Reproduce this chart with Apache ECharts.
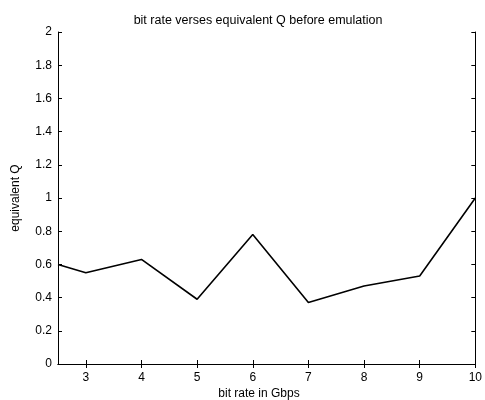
<!DOCTYPE html>
<html>
<head>
<meta charset="utf-8">
<script src="https://cdn.jsdelivr.net/npm/echarts@6/dist/echarts.min.js"></script>
<style>
html, body { margin: 0; padding: 0; background: #fff; }
#chart { width: 485px; height: 400px; }
</style>
</head>
<body>
<div id="chart"></div>
<script>
// Bit rate (Gbps) and equivalent Q before emulation
const bitRate = [2.5, 3, 4, 5, 6, 7, 8, 9, 10];
const equivQ = [0.60, 0.55, 0.63, 0.39, 0.78, 0.37, 0.47, 0.53, 1.00];
const xTicks = [3, 4, 5, 6, 7, 8, 9, 10];

const font = 'Liberation Sans, Arial, sans-serif';
const chart = echarts.init(document.getElementById('chart'));

const boxLine = { show: true, lineStyle: { color: '#000', width: 1 } };
const boxTick = { show: true, inside: true, length: 4, lineStyle: { color: '#000' } };

chart.setOption({
  animation: false,
  backgroundColor: '#fff',
  title: [{
    text: 'bit rate verses equivalent Q before emulation',
    left: 253, top: 9, textAlign: 'center',
    textStyle: { fontFamily: font, fontSize: 12.5, fontWeight: 'normal', color: '#000' }
  }, {
    text: 'bit rate in Gbps',
    left: 254, top: 383, textAlign: 'center',
    textStyle: { fontFamily: font, fontSize: 12, fontWeight: 'normal', color: '#000' }
  }],
  grid: { left: 58, right: 6, top: 32, bottom: 36 },
  xAxis: [{
    type: 'value', position: 'bottom', min: 2.5, max: 10,
    axisLine: boxLine,
    splitLine: { show: false },
    axisLabel: {
      fontFamily: font, fontSize: 12, color: '#000', margin: 8,
      customValues: xTicks
    },
    axisTick: Object.assign({ customValues: xTicks }, boxTick)
  }, {
    type: 'value', position: 'top', min: 2.5, max: 10,
    axisLine: boxLine,
    splitLine: { show: false },
    axisLabel: { show: false, customValues: xTicks },
    axisTick: Object.assign({ customValues: xTicks }, boxTick)
  }],
  yAxis: [{
    type: 'value', position: 'left', min: 0, max: 2, interval: 0.2,
    name: 'equivalent Q', nameLocation: 'middle', nameGap: 36, nameRotate: 90,
    nameTextStyle: { fontFamily: font, fontSize: 12, color: '#000' },
    axisLine: boxLine, axisTick: boxTick, splitLine: { show: false },
    axisLabel: {
      fontFamily: font, fontSize: 12, color: '#000', margin: 6,
      formatter: v => String(Math.round(v * 10) / 10)
    }
  }, {
    type: 'value', position: 'right', min: 0, max: 2, interval: 0.2,
    axisLine: boxLine, axisTick: boxTick, splitLine: { show: false },
    axisLabel: { show: false }
  }],
  series: [{
    type: 'line',
    data: bitRate.map((x, i) => [x, equivQ[i]]),
    showSymbol: false,
    lineStyle: { color: '#000', width: 1.6 },
    itemStyle: { color: '#000' }
  }]
});
</script>
</body>
</html>
